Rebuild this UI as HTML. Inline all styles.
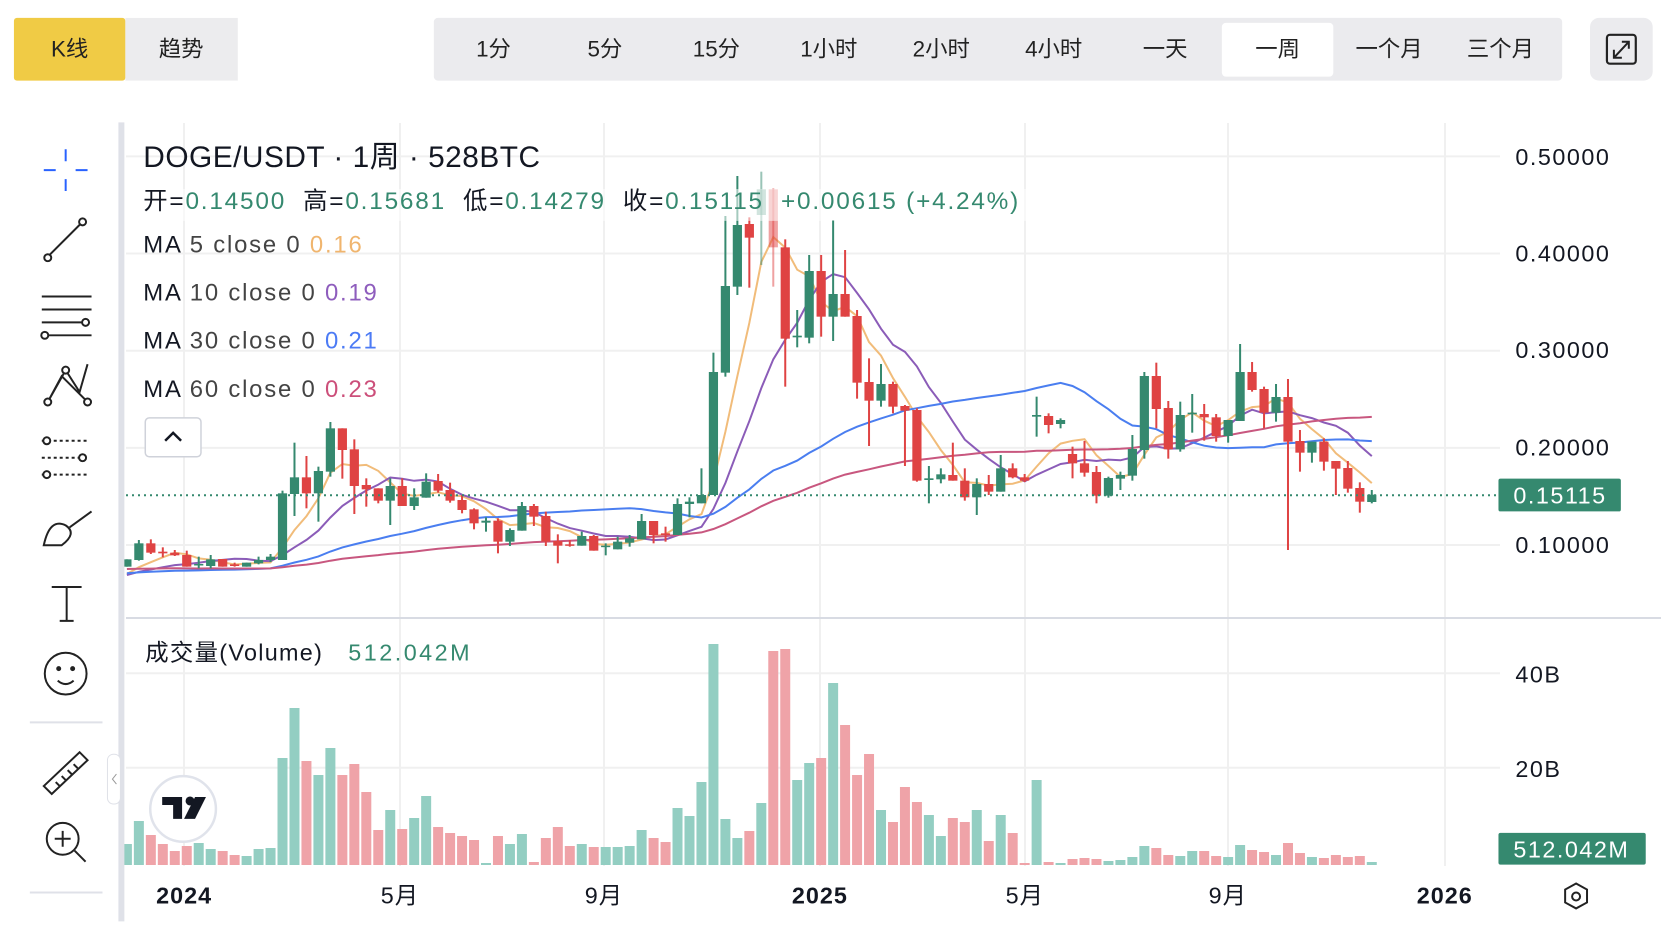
<!DOCTYPE html>
<html><head><meta charset="utf-8">
<style>
html,body{margin:0;padding:0;background:#fff;width:1670px;height:938px;overflow:hidden}
svg{display:block}
text{font-family:"Liberation Sans","Noto Sans CJK SC",sans-serif}
</style></head>
<body>
<svg id="s" width="1670" height="938" viewBox="0 0 1670 938" xmlns="http://www.w3.org/2000/svg">
<g id="grid" stroke="#f0f0f0" stroke-width="2"></g>
<line x1="126" y1="618" x2="1661" y2="618" stroke="#d8dbe3" stroke-width="2"/>
<g id="vol"></g>
<g id="ma" fill="none" stroke-width="2"></g>
<g id="cdl"></g>
<line x1="126" y1="495.3" x2="1500" y2="495.3" stroke="#35896f" stroke-width="2" stroke-dasharray="2 4"/>

<g transform="scale(0.995)">
<rect x="14" y="18" width="112" height="63" fill="#f0cb45" rx="3"/>
<rect x="126" y="18" width="113" height="63" fill="#ececee"/>
<text x="70" y="57" font-size="22.5" text-anchor="middle" fill="#222">K线</text>
<text x="182" y="57" font-size="22.5" text-anchor="middle" fill="#222">趋势</text>
<rect x="436" y="18" width="1134" height="63" fill="#ebebee" rx="4"/>
<rect x="1228" y="23" width="112" height="54" fill="#fff" rx="4"/>
<g font-size="22.5" text-anchor="middle" fill="#222">
<text x="496" y="57">1分</text><text x="608" y="57">5分</text><text x="720" y="57">15分</text>
<text x="833" y="57">1小时</text><text x="946" y="57">2小时</text><text x="1059" y="57">4小时</text>
<text x="1171" y="57">一天</text><text x="1284" y="57">一周</text><text x="1396" y="57">一个月</text><text x="1508" y="57">三个月</text>
</g>
<rect x="1598" y="18" width="63" height="63" fill="#ebebee" rx="9"/>
<rect x="1615" y="35" width="29" height="29" fill="none" stroke="#222" stroke-width="2.2" rx="3"/>
<path d="M1623 57 L1636 43 M1630 42 h7 v7 M1622 50 v8 h8" stroke="#222" stroke-width="2" fill="none"/>

<rect x="119" y="123" width="6" height="803" fill="#dfe1e8"/>
<g stroke="#222" stroke-width="2" fill="none">
<path d="M66 150 v12 M66 180 v12 M44 171 h12 M76 171 h12" stroke="#2962ff"/>
<path d="M48 258 L82 224"/><circle cx="48" cy="259" r="3.5" fill="#fff"/><circle cx="83" cy="223" r="3.5" fill="#fff"/>
<path d="M42 298 h50 M42 311 h50 M42 324 h40 M42 337 h50"/><circle cx="86" cy="324" r="3.5" fill="#fff"/><circle cx="45" cy="337" r="3.5" fill="#fff"/>
<path d="M48 404 L66 372 L80 394 L88 366 M48 404 L62 378 L88 404"/><circle cx="66" cy="372" r="3.5" fill="#fff"/><circle cx="48" cy="404" r="3.5" fill="#fff"/><circle cx="88" cy="404" r="3.5" fill="#fff"/>
<path d="M42 443 h48 M42 460 h48 M42 477 h48" stroke-dasharray="3 3"/><circle cx="47" cy="443" r="3.5" fill="#fff"/><circle cx="83" cy="460" r="3.5" fill="#fff"/><circle cx="47" cy="477" r="3.5" fill="#fff"/>
<path d="M44 548 Q50 520 66 528 Q78 536 62 548 Z M70 530 L92 514"/>
<path d="M52 590 h30 M67 590 v34 M60 624 h14"/>
<circle cx="66" cy="677" r="21"/><circle cx="59" cy="672" r="1.5" fill="#222"/><circle cx="73" cy="672" r="1.5" fill="#222"/><path d="M58 684 Q66 691 74 684"/>
<path d="M44 790 L80 756 L88 764 L52 798 Z M56 786 l4 4 M62 780 l4 4 M68 774 l4 4 M74 768 l4 4"/>
<circle cx="63" cy="843" r="16"/><path d="M75 855 L86 866 M63 835 v16 M55 843 h16"/>
</g>
<rect x="30" y="725" width="73" height="2" fill="#dfe1e8"/>
<rect x="30" y="896" width="73" height="2" fill="#dfe1e8"/>

<text x="144" y="168" font-size="30" fill="#131722" letter-spacing="0.5">DOGE/USDT · 1周 · 528BTC</text>
<rect x="142" y="190" width="895" height="32" fill="#fff" opacity="0.55"/>
<text x="144" y="210" font-size="24.5" fill="#131722" letter-spacing="1.8" xml:space="preserve">开=<tspan fill="#35896f">0.14500</tspan>  高=<tspan fill="#35896f">0.15681</tspan>  低=<tspan fill="#35896f">0.14279</tspan>  收=<tspan fill="#35896f">0.15115</tspan>  <tspan fill="#35896f">+0.00615 (+4.24%)</tspan></text>
<g font-size="24" fill="#131722" letter-spacing="1.8" xml:space="preserve">
<text x="144" y="254">MA <tspan fill="#444">5 close 0</tspan>  <tspan fill="#f0b56e">0.16</tspan></text>
<text x="144" y="302">MA <tspan fill="#444">10 close 0</tspan>  <tspan fill="#8e5dbd">0.19</tspan></text>
<text x="144" y="350">MA <tspan fill="#444">30 close 0</tspan>  <tspan fill="#4c7bf5">0.21</tspan></text>
<text x="144" y="399">MA <tspan fill="#444">60 close 0</tspan>  <tspan fill="#cc4f7a">0.23</tspan></text>
</g>
<rect x="146" y="420" width="56" height="39" rx="4" fill="#fff" stroke="#cfd2da" stroke-width="1.5"/>
<path d="M166 443 L174 435 L182 443" stroke="#131722" stroke-width="2.5" fill="none"/>

<g font-size="23.5" fill="#131722" letter-spacing="1.5">
<text x="1523" y="166">0.50000</text><text x="1523" y="263">0.40000</text><text x="1523" y="360">0.30000</text>
<text x="1523" y="458">0.20000</text><text x="1523" y="556">0.10000</text>
<text x="1523" y="686">40B</text><text x="1523" y="781">20B</text>
</g>
<rect x="1506" y="481" width="123" height="33" fill="#35896f" rx="2"/>
<text x="1521" y="506" font-size="23.5" fill="#fff" letter-spacing="1.5">0.15115</text>
<rect x="1506" y="837" width="148" height="32" fill="#35896f" rx="2"/>
<text x="1521" y="862" font-size="23.5" fill="#fff" letter-spacing="1.5">512.042M</text>

<text x="146" y="664" font-size="23.5" fill="#131722" letter-spacing="1.3">成交量(Volume)</text>
<text x="350" y="664" font-size="23.5" fill="#35896f" letter-spacing="2.5">512.042M</text>

<g font-size="23.5" fill="#131722" text-anchor="middle" letter-spacing="1">
<text x="185" y="908" font-weight="bold">2024</text><text x="402" y="908">5月</text><text x="607" y="908">9月</text>
<text x="824" y="908" font-weight="bold">2025</text><text x="1030" y="908">5月</text><text x="1234" y="908">9月</text>
<text x="1452" y="908" font-weight="bold">2026</text>
</g>
<path d="M1584 888 l11 6 v13 l-11 6 l-11 -6 v-13 z" fill="none" stroke="#222" stroke-width="2"/>
<circle cx="1584" cy="901" r="4" fill="none" stroke="#222" stroke-width="2"/>

<rect x="108" y="758" width="13" height="50" rx="6" fill="#fff" stroke="#dfe1e8"/>
<path d="M117 778 l-4 5 l4 5" stroke="#999" fill="none"/>
<circle cx="184" cy="813" r="33" fill="#fff" stroke="#e0e3eb" stroke-width="2.5"/>
<path d="M163 801 h20 v22 h-9 v-14 h-11 z" fill="#131722"/>
<circle cx="191" cy="805" r="4.5" fill="#131722"/>
<path d="M196 801 h11 l-11 22 h-11 z" fill="#131722"/>
</g>
</svg>
<script>
(function(){
var NS="http://www.w3.org/2000/svg";
function el(p,t,a){var e=document.createElementNS(NS,t);for(var k in a)e.setAttribute(k,a[k]);p.appendChild(e);return e;}
var g=document.getElementById('grid');
[184,400,604,820,1025,1228,1445].forEach(function(x){el(g,'line',{x1:x,y1:123,x2:x,y2:866});});
[156.4,253.5,350.7,447.9,545,673.3,767.7].forEach(function(y){el(g,'line',{x1:126,y1:y,x2:1500,y2:y});});
var S={a:function(z){return 400+z/3},b:function(z){return 160+z/3},c:function(z){return 330+z/3}};
var D=[
['a','G',478,500,478,500],['a','G',430,480,420,482],['a','R',430,458,418,462],['a','R',455,460,442,472],['a','R',458,466,450,468],
['a','R',465,500,452,500],['a','G',492,496,470,505],['a','G',478,498,465,505],['a','R',477,500,477,500],['a','R',493,498,488,500],
['a','G',488,500,488,500],['a','G',480,490,470,493],['a','G',470,480,462,486],['a','G',280,480,272,480],['a','G',232,282,128,348],
['a','R',232,280,168,325],['a','G',213,280,200,365],['a','G',85,215,66,230],['a','R',85,150,85,236],['a','R',148,258,118,342],
['a','R',255,268,235,320],['a','R',265,302,265,310],['a','G',258,302,235,375],['a','R',258,318,235,318],['a','G',292,318,265,330],
['a','G',245,293,220,293],['a','R',243,272,222,278],['a','R',270,302,248,308],['a','R',300,330,285,340],['a','R',328,370,325,388],
['a','G',362,368,352,395],['a','R',362,425,355,460],['a','G',390,425,385,438],['a','G',318,392,306,392],['a','R',318,350,312,378],
['a','R',348,425,335,438],['a','R',423,437,403,490],['a','R',433,437,420,440],['a','G',408,437,395,437],['a','R',408,452,405,452],
['a','G',437,440,430,466],['a','G',425,448,410,448],['a','G',415,428,405,440],['a','G',363,418,342,418],['a','R',363,405,363,430],
['a','R',400,405,380,425],['a','G',312,405,295,405],['a','G',305,312,292,352],
['b','G',1005,1030,925,1030],['b','G',636,1005,578,1005],['b','G',378,638,168,650],['b','G',195,380,48,405],['b','R',192,233,172,383],
['b','G',88,165,35,315],['b','R',88,262,85,380],['b','R',262,536,238,680],['b','G',527,532,450,562],['b','G',333,533,285,550],
['b','R',333,470,285,530],['b','G',402,470,180,543],['b','R',402,470,270,470],['b','R',468,668,450,716],['b','R',666,722,595,858],
['b','G',672,722,612,740],['b','R',672,740,665,760],['b','R',738,752,735,918],['b','R',750,962,745,965],['b','G',955,960,918,1030],
['b','G',943,958,925,970],['b','R',945,962,848,962],['b','R',962,1012,925,1022],['b','G',972,1012,955,1065],['b','R',972,995,945,1005],
['b','G',925,995,885,995],['b','R',925,952,910,955],['b','R',952,962,942,966],['b','G',765,770,710,830],['b','R',768,795,760,820],
['b','G',780,792,775,805],
['c','R',372,400,350,445],['c','R',400,428,333,440],['c','R',426,497,408,520],['c','G',444,497,440,503],['c','G',435,446,425,480],
['c','G',357,437,315,452],['c','G',138,360,126,386],['c','R',138,237,98,295],['c','R',234,358,213,386],['c','G',255,358,215,365],
['c','G',248,253,192,308],['c','R',252,262,222,332],['c','R',262,318,252,335],['c','G',270,318,270,338],['c','G',126,273,42,273],
['c','R',126,180,96,185],['c','R',177,248,170,295],['c','G',201,248,162,275],['c','R',201,335,147,660],['c','R',333,368,300,425],
['c','G',335,368,335,398],['c','R',335,395,325,422],['c','R',393,416,393,495],['c','R',414,476,393,488],['c','R',474,515,457,548],
['c','G',494,516,480,520]];
var X=function(i){return 126.9+i*11.97};
var cg=document.getElementById('cdl'),closes=[];
D.forEach(function(d,i){
 var f=S[d[0]],bt=f(d[2]),bb=f(d[3]),wt=f(d[4]),wb=f(d[5]),x=X(i);
 var col=d[1]=='G'?'#35896f':'#df4343';
 var op=(i==53||i==54)?0.5:1;
 el(cg,'rect',{x:x-1,y:wt,width:2,height:Math.max(wb-wt,1),fill:col,opacity:op});
 el(cg,'rect',{x:x-4.6,y:bt,width:9.2,height:Math.max(bb-bt,1.5),fill:col,opacity:op});
 closes.push(d[1]=='G'?bt:bb);
});
var pad=[];for(var k=0;k<60;k++)pad.push(560+k/59*18);
var all=pad.concat(closes);
var mg=document.getElementById('ma');
[[5,'#f1bc7a'],[10,'#8b5cb8'],[30,'#4a7ef0'],[60,'#c8577f']].forEach(function(m){
 var n=m[0],pts=[];
 for(var i=0;i<closes.length;i++){var s=0;for(var j=0;j<n;j++)s+=all[60+i-j];pts.push(X(i).toFixed(1)+','+(s/n).toFixed(1));}
 el(mg,'polyline',{points:pts.join(' '),stroke:m[1]});
});
var V=[642,573,615,642,663,648,639,657,663,675,678,657,654,384,234,393,435,354,435,402,486,600,540,597,564,498,591,609,618,630,699,618,642,612,696,624,591,648,642,651,651,651,648,
600,624,636,534,558,456,42,567,624,603,519,63,57,450,399,384,159,285,435,372,540,576,471,516,555,618,564,576,540,633,555,609,699,450];
var V2=[306,309,297,294,297,303,300,291,258,264,285,288,273,273,288,291,255,270,276,285,249,279,291,294,285,291,288,306];
var vg=document.getElementById('vol');
for(var i=0;i<D.length;i++){
 var ty=i<77?630+V[i]/3:760+V2[i-77]/3;
 var col=D[i][1]=='G'?'#93cec2':'#efa3a8';
 el(vg,'rect',{x:X(i)-5,y:ty,width:10,height:Math.max(865-ty,1),fill:col});
}
})();
</script>
</body></html>
